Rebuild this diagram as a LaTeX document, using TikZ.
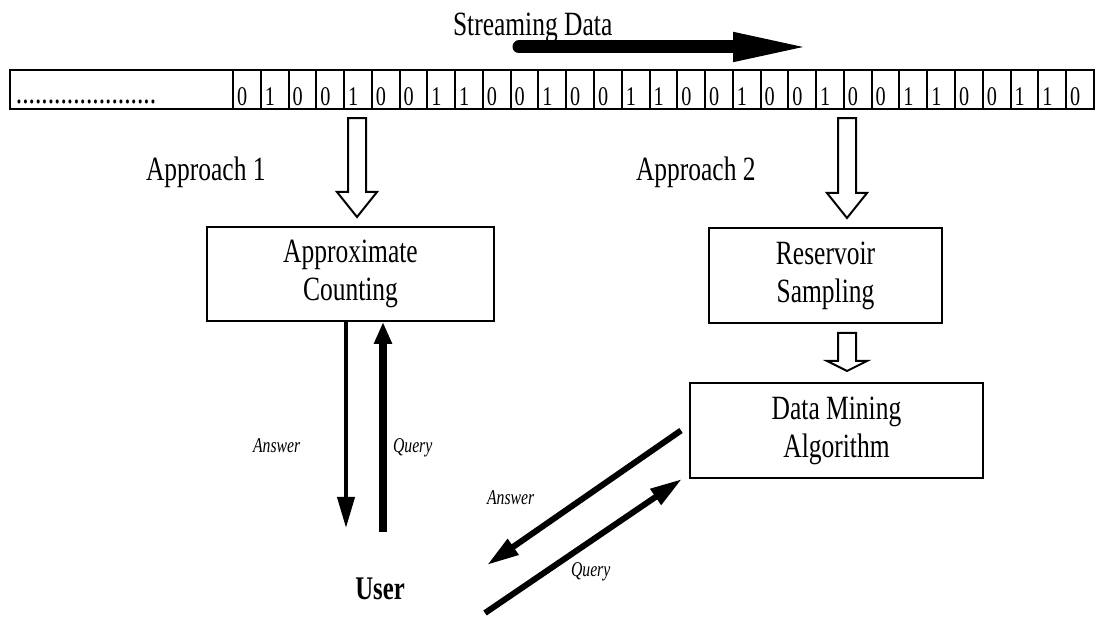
\documentclass[tikz,border=0pt]{standalone}
\usepackage{fontspec}
\setmainfont[FakeStretch=0.75]{Liberation Serif}
\usetikzlibrary{arrows.meta,calc}

% hollow block arrow pointing down, from #1 to #2, head length #3
\newcommand{\hollowdown}[3]{%
  \draw[hollow] let \p1=(#1), \p2=(#2) in
    (\x1-9pt,\y1) -- (\x1-9pt,\y2+#3) -- (\x1-20pt,\y2+#3) -- (\x1,\y2)
    -- (\x1+20pt,\y2+#3) -- (\x1+9pt,\y2+#3) -- (\x1+9pt,\y1) -- cycle;}

\begin{document}
\begin{tikzpicture}[
        x=1pt, y=1pt,
        line width=2pt,
        font=\fontsize{34}{38}\selectfont
    ]
    \tikzset{
        procbox/.style = {rectangle, draw=black, align=center, inner sep=0pt},
        tapebox/.style = {rectangle, draw=black, line width=2.5pt, inner sep=0pt},
        bit/.style = {inner sep=0pt, anchor=base west, font=\fontsize{27}{27}\selectfont},
        lbl/.style = {inner sep=0pt, anchor=base west},
        edgetext/.style = {inner sep=0pt, anchor=base west, font=\fontsize{21}{21}\selectfont\itshape},
        hollow/.style = {draw=black, fill=white, line width=2pt, line join=miter},
        stream/.style = {line width=13pt, line cap=round, -{Triangle[length=80pt,width=26pt]}},
        answer/.style = {line width=4pt, -{Triangle[length=31pt,width=17pt]}},
        query/.style = {line width=8pt, -{Triangle[length=22pt,width=17pt]}},
        diag/.style = {line width=6pt, -{Triangle[length=32pt,width=18pt]}},
    }
    \useasboundingbox (0,0) rectangle (1095,617);

    % the data stream
    \node[lbl] (stream) at (452,581) {Streaming Data};
    \coordinate (s0) at (519,570);
    \coordinate (s1) at (813,570);
    \draw[stream] (s0) -- (s1);

    \node[tapebox, minimum width=1084pt, minimum height=39pt] (tape) at (552,527.5) {};
    \node[lbl] (dots) at (15,513) {......................};
    \foreach \b [count=\i from 0] in {0,1,0,0,1,0,0,1,1,0,0,1,0,0,1,1,0,0,1,0,0,1,0,0,1,1,0,0,1,1,0}{
        \pgfmathsetmacro{\cx}{233+27.77*\i}
        \draw (\cx,508) -- (\cx,547);
        \node[bit] (b\i) at (\cx+3,511) {\b};
    }

    % approach 1
    \node[lbl] (ap1) at (145,436) {Approach 1};
    \node[procbox, minimum width=287pt, minimum height=94pt] (ac) at (350.5,343) {Approximate\\Counting};
    \path (tape.south -| ac.north) ++(6.5,-8) coordinate (h1a);
    \path (ac.north) ++(6.5,9) coordinate (h1b);
    \hollowdown{h1a}{h1b}{25pt}

    \coordinate (ans1) at (346,89);
    \coordinate (qry1) at (383,85);
    \draw[answer] (ac.south -| ans1) -- (ans1);
    \draw[query] (qry1) -- (ac.south -| qry1);
    \node[edgetext] (a1) at (252,164) {Answer};
    \node[edgetext] (q1) at (392,164) {Query};
    \node[inner sep=0pt, anchor=base, font=\fontsize{33}{33}\selectfont\bfseries] (user) at (380,17) {User};

    % approach 2
    \node[lbl] (ap2) at (635,436) {Approach 2};
    \node[procbox, minimum width=233pt, minimum height=95pt] (rs) at (825.5,341.5) {Reservoir\\Sampling};
    \node[procbox, minimum width=293pt, minimum height=95pt] (dm) at (836.5,186.5) {Data Mining\\Algorithm};
    \path (tape.south -| rs.north) ++(21.5,-8) coordinate (h2a);
    \path (rs.north) ++(21.5,9) coordinate (h2b);
    \hollowdown{h2a}{h2b}{25pt}
    \path (rs.south) ++(21.5,-9) coordinate (h3a);
    \path (h3a |- dm.north) ++(0,11) coordinate (h3b);
    \hollowdown{h3a}{h3b}{10pt}

    \coordinate (ans2) at (487,52);
    \coordinate (qry2) at (485,4);
    \draw[diag] ($(dm.west)+(-8,0)$) -- (ans2);
    \draw[diag] (qry2) -- ($(dm.south west)+(-7,0)$);
    \node[edgetext] (a2) at (486,112) {Answer};
    \node[edgetext] (q2) at (570,40) {Query};
\end{tikzpicture}
\end{document}
